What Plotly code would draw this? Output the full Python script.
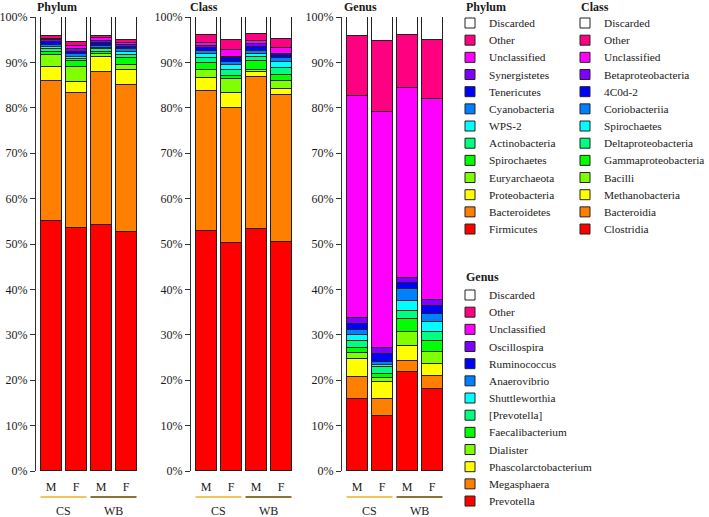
import plotly.graph_objects as go

W, H = 709, 517
FONT = "Liberation Serif, Times New Roman, Times, serif"
TXT = "#1a1a1a"

samples = ["CS M", "CS F", "WB M", "WB F"]
sex_labels = ["M", "F", "M", "F"]
groups = ["CS", "WB"]
group_colors = ["#F3C459", "#8C7234"]

# rainbow palette, bottom -> top of stack
colors = ["#FF0000", "#FF8000", "#FFFF00", "#80FF00", "#00FF00", "#00FF80",
          "#00FFFF", "#0080FF", "#0000FF", "#8000FF", "#FF00FF", "#FF0080", "#FFFFFF"]

# ---------------- Phylum (bottom -> top) ----------------
phylum_names = ["Firmicutes", "Bacteroidetes", "Proteobacteria", "Euryarchaeota",
                "Spirochaetes", "Actinobacteria", "WPS-2", "Cyanobacteria",
                "Tenericutes", "Synergistetes", "Unclassified", "Other", "Discarded"]
phylum_CS_M = [55.0, 31.0, 2.9, 2.7, 0.7, 0.7, 0.4, 0.5, 0.5, 0.5, 0.3, 0.7, 4.1]
phylum_CS_F = [53.5, 29.7, 2.4, 3.3, 1.3, 0.5, 0.6, 0.5, 0.6, 0.5, 0.8, 0.9, 5.4]
phylum_WB_M = [54.2, 33.6, 3.3, 0.7, 0.6, 0.5, 0.3, 0.5, 0.6, 0.5, 0.5, 0.6, 4.1]
phylum_WB_F = [52.6, 32.5, 3.2, 1.2, 1.4, 0.7, 0.8, 0.5, 0.6, 0.4, 0.3, 0.7, 5.1]

# ---------------- Class (bottom -> top) ----------------
class_names = ["Clostridia", "Bacteroidia", "Methanobacteria", "Bacilli",
               "Gammaproteobacteria", "Deltaproteobacteria", "Spirochaetes",
               "Coriobacteriia", "4C0d-2", "Betaproteobacteria", "Unclassified",
               "Other", "Discarded"]
class_CS_M = [52.8, 31.0, 2.7, 1.8, 1.5, 1.2, 0.9, 0.6, 0.6, 0.6, 0.5, 1.9, 3.9]
class_CS_F = [50.2, 29.8, 3.3, 3.0, 0.6, 1.4, 1.1, 0.6, 1.0, 0.3, 1.5, 2.2, 5.0]
class_WB_M = [53.2, 33.6, 1.0, 0.6, 2.0, 0.9, 0.6, 0.6, 0.9, 0.7, 0.6, 1.5, 3.8]
class_WB_F = [50.4, 32.5, 1.3, 1.7, 1.3, 1.5, 1.3, 0.9, 0.7, 0.3, 1.2, 2.1, 4.8]

# ---------------- Genus (bottom -> top) ----------------
genus_names = ["Prevotella", "Megasphaera", "Phascolarctobacterium", "Dialister",
               "Faecalibacterium", "[Prevotella]", "Shuttleworthia", "Anaerovibrio",
               "Ruminococcus", "Oscillospira", "Unclassified", "Other", "Discarded"]
genus_CS_M = [15.8, 4.9, 4.0, 1.3, 1.2, 1.4, 1.3, 1.1, 1.4, 1.3, 48.9, 13.3, 4.1]
genus_CS_F = [12.2, 3.6, 3.9, 0.8, 0.8, 1.5, 0.6, 0.6, 1.8, 1.4, 51.8, 15.7, 5.3]
genus_WB_M = [21.7, 2.5, 3.3, 3.2, 2.7, 1.9, 2.1, 2.7, 1.3, 1.1, 41.8, 11.7, 4.0]
genus_WB_F = [18.0, 2.9, 2.6, 2.8, 2.4, 1.9, 2.2, 1.8, 1.7, 1.4, 44.3, 13.0, 5.0]

y_ticks = list(range(0, 101, 10))
y_ticktext = [f"{v}%" for v in y_ticks]

panels = [
    ("Phylum", phylum_names, [phylum_CS_M, phylum_CS_F, phylum_WB_M, phylum_WB_F], 36, 57),
    ("Class", class_names, [class_CS_M, class_CS_F, class_WB_M, class_WB_F], 191, 204),
    ("Genus", genus_names, [genus_CS_M, genus_CS_F, genus_WB_M, genus_WB_F], 342, 360),
]


def px(x):
    return x / W


def py(y):
    return 1 - y / H


fig = go.Figure()
shapes = []
annotations = []
BAR_W = 0.84
XR = [-0.6, 3.8]

for p, (title, names, sample_vals, axis_x, title_x) in enumerate(panels):
    sfx = "" if p == 0 else str(p + 1)
    xa, ya = "x" + sfx, "y" + sfx
    for k, name in enumerate(names):
        fig.add_trace(go.Bar(
            x=[0, 1, 2, 3], y=[sv[k] for sv in sample_vals], width=BAR_W,
            marker=dict(color=colors[k], line=dict(color="#222222", width=1)),
            name=name, showlegend=False, xaxis=xa, yaxis=ya,
            hovertemplate=name + ": %{y}%<extra></extra>"))
    fig.update_layout(**{
        "xaxis" + sfx: dict(domain=[px(axis_x), px(axis_x + 110)], range=XR,
                            anchor=ya, showline=False, showgrid=False, zeroline=False,
                            tickvals=[0, 1, 2, 3], ticktext=sex_labels, ticks="",
                            ticklabelstandoff=7, automargin=False,
                            tickfont=dict(family=FONT, size=12, color=TXT)),
        "yaxis" + sfx: dict(domain=[py(471), py(17)], range=[0, 100], anchor=xa,
                            showline=True, linecolor="#333333", linewidth=1,
                            ticks="outside", ticklen=5, tickcolor="#333333",
                            tickvals=y_ticks, ticktext=y_ticktext, showgrid=False,
                            zeroline=False, automargin=False,
                            tickfont=dict(family=FONT, size=12, color=TXT)),
    })
    # panel title
    annotations.append(dict(xref="paper", yref="paper", x=px(title_x), y=py(7),
                            text=f"<b>{title}</b>", showarrow=False,
                            xanchor="center", yanchor="middle",
                            font=dict(family=FONT, size=12, color=TXT)))
    # group lines and labels
    for g, gname in enumerate(groups):
        x0 = 2 * g - BAR_W / 2
        x1 = 2 * g + 1 + BAR_W / 2
        shapes.append(dict(type="line", xref=xa, yref="paper", x0=x0, x1=x1,
                           y0=py(497), y1=py(497),
                           line=dict(color=group_colors[g], width=2)))
        annotations.append(dict(xref=xa, yref="paper", x=2 * g + 0.5, y=py(511),
                                text=gname, showarrow=False, xanchor="center",
                                yanchor="middle",
                                font=dict(family=FONT, size=12, color=TXT)))

# manual legends
legends = [
    ("Phylum", phylum_names, 464, 7, 23),
    ("Class", class_names, 579, 7, 23),
    ("Genus", genus_names, 464, 277, 295),
]
STEP = 17.17
for title, names, lx, ty, y0 in legends:
    annotations.append(dict(xref="paper", yref="paper", x=px(lx), y=py(ty),
                            text=f"<b>{title}</b>", showarrow=False,
                            xanchor="left", yanchor="middle",
                            font=dict(family=FONT, size=12, color=TXT)))
    n = len(names)
    for i in range(n):
        k = n - 1 - i  # top of stack first
        yc = y0 + i * STEP
        shapes.append(dict(type="rect", xref="paper", yref="paper",
                           x0=px(lx + 1), x1=px(lx + 11), y0=py(yc + 5), y1=py(yc - 5),
                           fillcolor=colors[k], line=dict(color="#222222", width=1)))
        annotations.append(dict(xref="paper", yref="paper", x=px(lx + 23), y=py(yc),
                                text=names[k], showarrow=False, xanchor="left",
                                yanchor="middle",
                                font=dict(family=FONT, size=11.3, color=TXT)))

fig.update_layout(
    template="none",
    width=W, height=H, barmode="stack", bargap=0,
    margin=dict(l=0, r=0, t=0, b=0, pad=0),
    paper_bgcolor="white", plot_bgcolor="white",
    shapes=shapes, annotations=annotations,
    font=dict(family=FONT, size=12, color=TXT),
)

fig.write_html(
    "out.html",
    config={"displayModeBar": False},
    post_script="document.body.style.margin='0';document.body.style.overflow='hidden';",
)
